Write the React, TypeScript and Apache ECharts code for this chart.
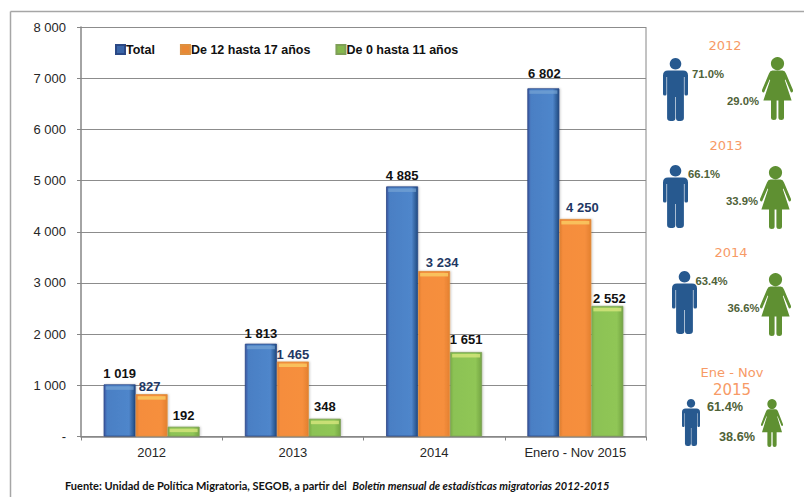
import React, { useEffect, useRef } from "react";
import * as echarts from "echarts";

const categories = ["2012", "2013", "2014", "Enero - Nov 2015"];
const total = [1019, 1813, 4885, 6802];
const teens = [827, 1465, 3234, 4250];
const children = [192, 348, 1651, 2552];
const seriesNames = ["Total", "De 12 hasta 17 años", "De 0 hasta 11 años"];
const source = "Fuente: Unidad de Política Migratoria, SEGOB, a partir del  ";
const sourceItalic = "Boletín mensual de estadísticas migratorias 2012-2015";

// nudges of the value labels, as placed by hand in the original
const totalLabelNudge = [[0, 0], [0, 0], [0, 0], [1, -4]];
const teensLabelNudge = [[-2, 0], [0, 0], [8, -1], [7, -4]];
const childrenLabelNudge = [[0, -1], [0, -2], [0, -2], [2, 3]];

const MAN =
  "M12.5 0a5.8 5.8 0 1 0 .01 0zM5 12.6H20Q25 12.6 25 17.5V36Q25 37.6 23.4 37.6H22.8Q21.5 37.6 21.5 36V19H20.9V60Q20.9 63 17.4 63H15.6Q13 63 13 60V39H12.4V60Q12.4 63 9.4 63H7.6Q4.1 63 4.1 60V19H3.5V36Q3.5 37.6 2.2 37.6H1.6Q0 37.6 0 36V17.5Q0 12.6 5 12.6z";
const WOMAN =
  "M15.5 0a6.6 6.6 0 1 0 .01 0zM10.5 13.6H20.5Q23 13.6 24 16.5L31 33Q31.3 35.4 29.6 35.4Q28.8 35.4 28.4 34.2L23.4 22.5L22.8 23L29.6 43.5H22V60.5Q22 63 19.2 63Q16.4 63 16.4 60.5V43.5H14.6V60.5Q14.6 63 11.8 63Q9 63 9 60.5V43.5H1.4L8.2 23L7.6 22.5L2.6 34.2Q2.2 35.4 1.4 35.4Q-.3 35.4 0 33L7 16.5Q8 13.6 10.5 13.6z";
echarts.graphic.registerShape("manIcon", echarts.graphic.extendPath(MAN, {}));
echarts.graphic.registerShape("womanIcon", echarts.graphic.extendPath(WOMAN, {}));

const fmt = (v: number) =>
  v === 0 ? "-" : String(v).replace(/\B(?=(\d{3})+$)/g, " ");

const hGrad = (a: string, b: string, c: string, d: string) =>
  new echarts.graphic.LinearGradient(0, 0, 1, 0, [
    { offset: 0, color: a },
    { offset: 0.1, color: b },
    { offset: 0.8, color: c },
    { offset: 1, color: d },
  ]);

const barSeries = (
  name: string,
  data: number[],
  nudges: number[][],
  color: any,
  border: string,
  labelColor: string,
  distance: number
) => ({
  type: "bar",
  name,
  data: data.map((value, i) => ({ value, label: { offset: nudges[i] } })),
  barWidth: 32,
  barGap: 0,
  itemStyle: {
    color,
    borderColor: border,
    borderWidth: 0.8,
    shadowBlur: 2,
    shadowColor: "rgba(0,0,0,0.2)",
    shadowOffsetX: 1,
  },
  label: {
    show: true,
    position: "top",
    distance,
    formatter: (p: any) => fmt(p.value),
    fontFamily: "Liberation Sans",
    fontWeight: "bold",
    fontSize: 13,
    color: labelColor,
  },
});

const capSeries = (data: number[], offset: number, color: string) => ({
  type: "custom",
  silent: true,
  z: 5,
  data: data.map((v, i) => [i, v]),
  renderItem: (_: any, api: any) => {
    const p = api.coord([api.value(0), api.value(1)]);
    return {
      type: "rect",
      shape: { x: p[0] + offset - 14, y: p[1] + 2, width: 28, height: 3.5 },
      style: { fill: color },
    };
  },
});

const yearText = (text: string, x: number, y: number, size = 13) => ({
  type: "text",
  x,
  y,
  style: {
    text,
    fill: "#f79a66",
    font: `${size}px "DejaVu Sans"`,
    align: "center",
    verticalAlign: "middle",
  },
});
const pctText = (text: string, x: number, y: number, size = 11.3) => ({
  type: "text",
  x,
  y,
  style: {
    text,
    fill: "#4f6238",
    font: `bold ${size}px "Liberation Sans"`,
    align: "left",
    verticalAlign: "middle",
  },
});
const icon = (
  type: string,
  x: number,
  y: number,
  w: number,
  h: number,
  fill: string,
  nominalW: number
) => ({
  type,
  x,
  y,
  scaleX: w / nominalW,
  scaleY: h / 63,
  style: { fill },
});
const man = (x: number, y: number, w = 25, h = 63) =>
  icon("manIcon", x, y, w, h, "#27598f", 25);
const woman = (x: number, y: number, w = 31, h = 63) =>
  icon("womanIcon", x, y, w, h, "#5f9032", 31);

export default function App() {
  const ref = useRef<HTMLDivElement>(null);
  useEffect(() => {
    document.body.style.margin = "0";
    const chart = echarts.init(ref.current!, undefined, { renderer: "svg" });
    chart.setOption({
      animation: false,
      backgroundColor: "#ffffff",
      grid: { left: 81, right: 158, top: 27, bottom: 60.5 },
      legend: {
        left: 115,
        top: 43,
        padding: 0,
        itemWidth: 9,
        itemHeight: 9,
        itemGap: 25,
        icon: "rect",
        textStyle: {
          fontFamily: "Liberation Sans",
          fontWeight: "bold",
          fontSize: 12.5,
          color: "#111111",
          padding: [0, 0, 0, -4],
        },
        data: [
          { name: seriesNames[0], itemStyle: { color: "#3a65a8" } },
          { name: seriesNames[1], itemStyle: { color: "#e98834" } },
          { name: seriesNames[2], itemStyle: { color: "#85b84e" } },
        ],
      },
      xAxis: {
        type: "category",
        data: categories,
        axisLine: { lineStyle: { color: "#868686", width: 1.5 } },
        axisTick: { show: true, length: 4, lineStyle: { color: "#868686" } },
        axisLabel: {
          fontFamily: "Liberation Sans",
          fontSize: 13,
          color: "#262626",
          margin: 9,
        },
      },
      yAxis: {
        type: "value",
        min: 0,
        max: 8000,
        interval: 1000,
        axisLine: { show: true, lineStyle: { color: "#868686", width: 1.5 } },
        axisTick: { show: true, length: 4, lineStyle: { color: "#868686" } },
        splitLine: { lineStyle: { color: "#8c8c8c", width: 1 } },
        axisLabel: {
          formatter: fmt,
          fontFamily: "Liberation Sans",
          fontSize: 13,
          color: "#262626",
          margin: 15,
        },
      },
      series: [
        barSeries(seriesNames[0], total, totalLabelNudge, hGrad("#3a55a0", "#4a7fc4", "#4f86cb", "#1f4a80"), "#2b4885", "#111111", 4),
        barSeries(seriesNames[1], teens, teensLabelNudge, hGrad("#e07d30", "#f58d3c", "#f68f3e", "#e4802f"), "#dd9040", "#1f3864", 1),
        barSeries(seriesNames[2], children, childrenLabelNudge, hGrad("#7cae48", "#8cc254", "#90c656", "#74a544"), "#7f9f58", "#111111", 4),
        capSeries(total, -32, "rgba(125,170,215,0.6)"),
        capSeries(teens, 0, "rgba(250,205,100,0.8)"),
        capSeries(children, 32, "rgba(215,230,125,0.8)"),
      ],
      graphic: [
        { type: "line", shape: { x1: 10.5, y1: 11.5, x2: 804, y2: 11.5 }, style: { stroke: "#a6a6a6", lineWidth: 1.5 } },
        { type: "line", shape: { x1: 10.5, y1: 11.5, x2: 10.5, y2: 497 }, style: { stroke: "#a6a6a6", lineWidth: 1.5 } },
        { type: "line", shape: { x1: 646, y1: 27, x2: 646, y2: 436 }, style: { stroke: "#868686", lineWidth: 1 } },
        {
          type: "text",
          x: 65,
          y: 485,
          style: {
            text: `{a|${source}}{b|${sourceItalic}}`,
            rich: {
              a: { font: 'bold 11px "Lato"', fill: "#111111" },
              b: { font: 'italic bold 11px "Lato"', fill: "#111111" },
            },
            verticalAlign: "middle",
          },
        },
        yearText("2012", 725, 45),
        yearText("2013", 726, 145),
        yearText("2014", 731, 252),
        yearText("Ene - Nov", 732, 372),
        yearText("2015", 732, 390, 15),
        man(663, 58),
        man(663, 165),
        man(672, 271),
        man(682, 399, 18, 47),
        woman(762, 57),
        woman(760, 166),
        woman(760, 273),
        woman(761, 399, 22, 48),
        pctText("71.0%", 692, 74),
        pctText("29.0%", 727, 101),
        pctText("66.1%", 688, 174),
        pctText("33.9%", 726, 201),
        pctText("63.4%", 695.5, 281),
        pctText("36.6%", 727.5, 308),
        pctText("61.4%", 707, 407, 12.7),
        pctText("38.6%", 719, 437, 12.7),
      ],
    });
    return () => chart.dispose();
  }, []);
  return <div ref={ref} style={{ width: 804, height: 497 }} />;
}
